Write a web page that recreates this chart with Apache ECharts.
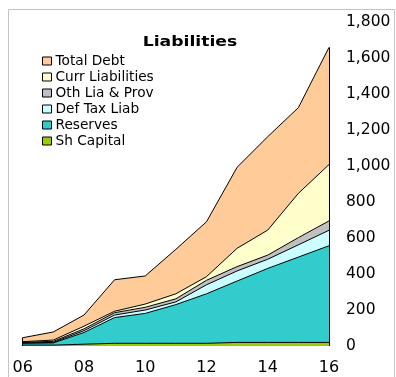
<!DOCTYPE html>
<html>
<head>
<meta charset="utf-8">
<script src="https://cdn.jsdelivr.net/npm/echarts@6/dist/echarts.min.js"></script>
<style>
html,body{margin:0;padding:0;background:#fff;}
#chart{width:396px;height:377px;}
</style>
</head>
<body>
<div id="chart"></div>
<script>
var years = ['06','07','08','09','10','11','12','13','14','15','16'];
var shCapital   = [5, 5, 10, 15, 15, 15, 15, 20, 20, 20, 20];
var reserves    = [10, 12, 65, 143, 166, 215, 275, 341, 411, 474, 537];
var defTaxLiab  = [2, 3, 10, 14, 19, 15, 50, 56, 51, 68, 86];
var othLiaProv  = [3, 6, 10, 13, 15, 17, 25, 24, 23, 40, 52];
var currLiab    = [4, 7, 15, 8, 18, 28, 20, 102, 139, 246, 313];
var totalDebt   = [22, 45, 62, 175, 156, 247, 305, 450, 519, 476, 651];
var yTicks = [0, 200, 400, 600, 800, 1000, 1200, 1400, 1600, 1800];

var names = ['Sh Capital','Reserves','Def Tax Liab','Oth Lia & Prov','Curr Liabilities','Total Debt'];
var colors = ['#99CC00','#33CCCC','#CCFFFF','#C0C0C0','#FFFFCC','#FFCC99'];
var dataSets = [shCapital, reserves, defTaxLiab, othLiaProv, currLiab, totalDebt];

var totals = years.map(function(_, i){
  return dataSets.reduce(function(s, arr){ return s + arr[i]; }, 0);
});
var last = years.length - 1;

var font = 'DejaVu Sans';

var series = names.map(function(n, k){
  var s = {
    name: n,
    type: 'line',
    stack: 'total',
    data: dataSets[k],
    symbol: 'none',
    smooth: false,
    lineStyle: {color: '#000', width: 1},
    itemStyle: {color: colors[k]},
    areaStyle: {color: colors[k], opacity: 1},
    emphasis: {disabled: true},
    z: 2
  };
  if (k === names.length - 1) {
    s.markLine = {
      silent: true,
      symbol: 'none',
      label: {show: false},
      lineStyle: {color: '#000', width: 1, type: 'solid'},
      data: [
        [{coord: [years[0], 0]}, {coord: [years[0], totals[0]]}],
        [{coord: [years[last], 0]}, {coord: [years[last], totals[last]]}]
      ]
    };
  }
  return s;
});

var chart = echarts.init(document.getElementById('chart'));
chart.setOption({
  animation: false,
  backgroundColor: '#fff',
  graphic: [
    {type: 'rect', shape: {x: 8.5, y: 9.5, width: 386, height: 380},
     style: {fill: 'none', stroke: '#c4c4c4', lineWidth: 1}, z: 0, silent: true},
    {type: 'text', x: 190, y: 42, scaleX: 1.23,
     style: {text: 'Liabilities', font: 'bold 14px "DejaVu Sans"', fill: '#000',
             textAlign: 'center', textVerticalAlign: 'middle'}, z: 10}
  ],
  legend: {
    orient: 'vertical',
    left: 37,
    top: 48,
    data: names.slice().reverse(),
    icon: 'rect',
    itemWidth: 9,
    itemHeight: 8,
    itemGap: 0,
    selectedMode: false,
    itemStyle: {borderColor: '#000', borderWidth: 1},
    textStyle: {fontFamily: font, fontSize: 13.7, color: '#000', lineHeight: 16, padding: [0,0,0,-1]}
  },
  grid: {left: 22.7, right: 67, top: 22, bottom: 31, containLabel: false},
  xAxis: {
    type: 'category',
    data: years,
    boundaryGap: false,
    axisLine: {show: false},
    axisTick: {show: false},
    splitLine: {show: false},
    axisLabel: {interval: 1, color: '#000', fontFamily: font, fontSize: 16, margin: 14}
  },
  yAxis: {
    type: 'value',
    position: 'right',
    min: yTicks[0],
    max: yTicks[yTicks.length - 1],
    interval: yTicks[1] - yTicks[0],
    axisLine: {show: false},
    axisTick: {show: false},
    splitLine: {show: false},
    axisLabel: {
      color: '#000', fontFamily: font, fontSize: 15.5, margin: 17,
      formatter: function(v){ return v.toLocaleString('en-US'); }
    }
  },
  series: series
});
</script>
</body>
</html>
